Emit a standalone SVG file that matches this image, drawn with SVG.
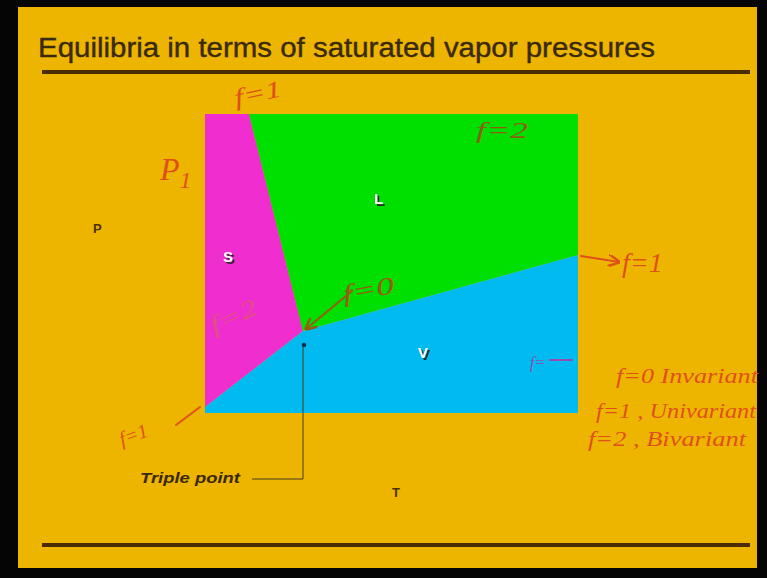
<svg xmlns="http://www.w3.org/2000/svg" width="767" height="578" viewBox="0 0 767 578">
<defs>
<style>
.title{font-family:"Liberation Sans",Arial,sans-serif;font-size:27px;fill:#3a2a0c;stroke:#3a2a0c;stroke-width:0.4}
.rule{stroke:#4a2c05;stroke-width:4}
.phase{font-family:"Liberation Sans",Arial,sans-serif;font-weight:bold;font-size:15px;fill:#ffffff;filter:url(#sh)}
.axis{font-family:"Liberation Sans",Arial,sans-serif;font-weight:bold;font-size:13px;fill:#4a3000}
.hand{font-family:"Liberation Serif","DejaVu Serif",serif;font-style:italic;fill:#e0501a}
.ink{stroke:#e0501a;stroke-width:2;fill:none;stroke-linecap:round}
</style>
<filter id="sh" x="-50%" y="-50%" width="200%" height="200%">
<feDropShadow dx="2" dy="2" stdDeviation="0.6" flood-color="#2a1a20" flood-opacity="0.9"/>
</filter>
<marker id="ah" viewBox="0 0 10 10" refX="9" refY="5" markerWidth="6" markerHeight="6" orient="auto">
<path d="M0,0 L10,5 L0,10" fill="none" stroke="#e0501a" stroke-width="2"/>
</marker>
<marker id="ah2" viewBox="0 0 10 10" refX="9" refY="5" markerWidth="6" markerHeight="6" orient="auto">
<path d="M0,0 L10,5 L0,10" fill="none" stroke="#9a5a10" stroke-width="2"/>
</marker>
</defs>
<rect x="0" y="0" width="767" height="578" fill="#050505"/>
<rect x="18" y="7" width="739" height="561" fill="#EDB500"/>
<text class="title" x="38" y="57" textLength="617" lengthAdjust="spacingAndGlyphs">Equilibria in terms of saturated vapor pressures</text>
<line class="rule" x1="42" y1="72" x2="750" y2="72"/>
<line class="rule" x1="42" y1="545" x2="750" y2="545"/>

<g id="solid">
<polygon points="205,114 249,114 303,331 205,407" fill="#F02ED0"/>
<text class="phase" x="223" y="262">S</text>
</g>
<g id="liquid">
<polygon points="249,114 578,114 578,255 303,331" fill="#00E000"/>
<text class="phase" x="374" y="204">L</text>
</g>
<g id="vapor">
<polygon points="205,407 303,331 578,255 578,413 205,413" fill="#00BAF0"/>
<text class="phase" x="418" y="358">V</text>
</g>
<g id="axes">
<text class="axis" x="93" y="233">P</text>
<text class="axis" x="392" y="497">T</text>
</g>
<g id="triple-point">
<circle cx="304" cy="345" r="2.2" fill="#1a2a50"/>
<text x="140" y="483" font-family="Liberation Sans,Arial,sans-serif" font-weight="bold" font-style="italic" font-size="14" fill="#3a2800" textLength="100" lengthAdjust="spacingAndGlyphs">Triple point</text>
</g>
<g id="connectors">
<polyline points="303,347 303,479 252,479" fill="none" stroke="#4a3a20" stroke-width="1"/>
<line class="ink" x1="352" y1="291" x2="306" y2="329" style="stroke:#9a5a10" marker-end="url(#ah2)"/>
<line class="ink" x1="581" y1="256" x2="619" y2="262" marker-end="url(#ah)"/>
<line class="ink" x1="176" y1="425" x2="200" y2="407"/>
<line class="ink" x1="550" y1="360" x2="572" y2="360" style="stroke:#9050b0"/>
</g>
<g id="annotations">
<text class="hand" x="236" y="106" font-size="24" transform="rotate(-12 236 106)" textLength="48" lengthAdjust="spacingAndGlyphs">f=1</text>
<text class="hand" x="160" y="180" font-size="32">P<tspan font-size="24" dy="8">1</tspan></text>
<text class="hand" x="476" y="138" font-size="24" style="fill:#8a6010" textLength="52" lengthAdjust="spacingAndGlyphs">f=2</text>
<text class="hand" x="214" y="334" font-size="24" style="fill:#e05080" transform="rotate(-25 214 334)" textLength="50" lengthAdjust="spacingAndGlyphs">f=2</text>
<text class="hand" x="344" y="302" font-size="24" style="fill:#9a5a10" transform="rotate(-10 344 302)" textLength="52" lengthAdjust="spacingAndGlyphs">f=0</text>
<text class="hand" x="622" y="272" font-size="28">f=1</text>
<text class="hand" x="530" y="368" font-size="16" style="fill:#9050b0">f=</text>
<text class="hand" x="122" y="446" font-size="20" transform="rotate(-20 122 446)">f=1</text>
<text class="hand" x="616" y="383" font-size="20" textLength="142" lengthAdjust="spacingAndGlyphs">f=0  Invariant</text>
<text class="hand" x="596" y="418" font-size="20" textLength="160" lengthAdjust="spacingAndGlyphs">f=1 , Univariant</text>
<text class="hand" x="588" y="446" font-size="20" textLength="158" lengthAdjust="spacingAndGlyphs">f=2 , Bivariant</text>
</g>
</svg>
